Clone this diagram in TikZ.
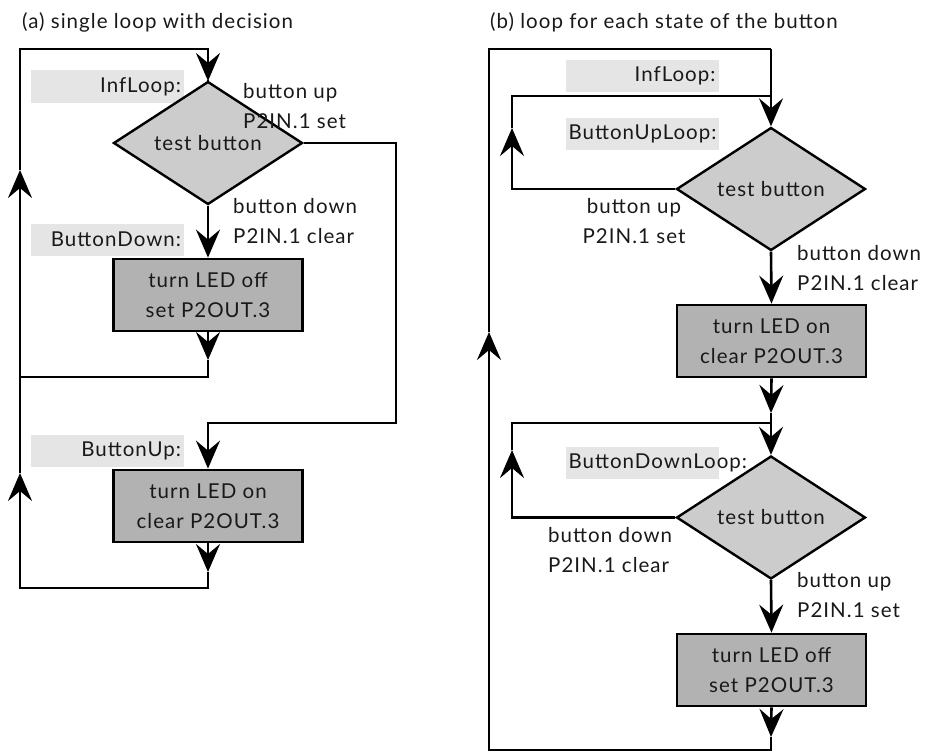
\documentclass[tikz,border=0pt]{standalone}
\usepackage{fontspec}
\setmainfont{Lato}[LetterSpace=5]
\usetikzlibrary{shapes.geometric,arrows.meta}
\begin{document}
\begin{tikzpicture}[x=1pt,y=-1pt,
  every node/.style={font=\fontsize{20.5}{29.5}\selectfont, text=black!90},
  ln/.style={line width=2.6pt, line join=miter},
  ar/.style={ln, -{Stealth[length=28pt,width=24pt,inset=10pt]}},
  dec/.style={diamond, draw, line width=2.4pt, fill=black!20, minimum width=189pt, minimum height=93pt, inner sep=0pt},
  act/.style={rectangle, draw, line width=2.8pt, fill=black!30, minimum width=189pt, minimum height=72pt, align=center, inner sep=0pt},
  lab/.style={rectangle, fill=black!10, minimum width=153pt, minimum height=32pt, text width=147pt, align=right, inner sep=0pt},
  cond/.style={align=left, inner sep=0pt, anchor=base west},
  condc/.style={align=center, inner sep=0pt, anchor=base},
  ttl/.style={inner sep=0pt, anchor=base west},
]
\useasboundingbox (0,0) rectangle (929,752);

% ---------------- panel (a) ----------------
\node[ttl] (ta) at (22,29) {(a) single loop with decision};
\node[lab] (lA1) at (107.5,86.5) {InfLoop:};
\node[lab] (lA2) at (107.5,239.5) {ButtonDown:};
\node[lab] (lA3) at (107.5,451) {ButtonUp:};
\node[dec] (dA) at (208,143) {test button};
\node[act] (bA1) at (208,295) {turn LED off\\set P2OUT.3};
\node[act] (bA2) at (208,506) {turn LED on\\clear P2OUT.3};
\node[cond] (cA1) at (243,128) {button up\\P2IN.1 set};
\node[cond] (cA2) at (233,243) {button down\\P2IN.1 clear};

\coordinate (tA1) at (208,360);
\coordinate (kA1) at (208,377);
\coordinate (kA2) at (20,377);
\coordinate (tA2) at (20,170);
\coordinate (kA3) at (20,49);
\coordinate (kA4) at (208,49);
\coordinate (tA3) at (208,81);
\coordinate (kA5) at (396,143);
\coordinate (kA6) at (396,423);
\coordinate (kA7) at (208,423);
\coordinate (tA4) at (208,572);
\coordinate (kA8) at (208,588);
\coordinate (kA9) at (20,588);
\coordinate (tA5) at (20,473);

\draw[ar] (bA1.south) -- (tA1);
\draw[ar] (tA1) -- (kA1) -- (kA2) -- (tA2);
\draw[ar] (tA2) -- (kA3) -- (kA4) -- (tA3);
\draw[ln] (tA3) -- (dA.north);
\draw[ar] (dA.south) -- (bA1.north);
\draw[ar] (dA.east) -- (kA5) -- (kA6) -- (kA7) -- (bA2.north);
\draw[ar] (bA2.south) -- (tA4);
\draw[ar] (tA4) -- (kA8) -- (kA9) -- (tA5);
\draw[ln] (tA5) -- (kA2);

% ---------------- panel (b) ----------------
\node[ttl] (tb) at (490,29) {(b) loop for each state of the button};
\node[lab] (lB1) at (642,76) {InfLoop:};
\node[lab] (lB2) at (642,134) {ButtonUpLoop:};
\node[lab] (lB3) at (642,463) {ButtonDownLoop:};
\node[dec] (dB1) at (771,189) {test button};
\node[act] (bB1) at (771.5,341) {turn LED on\\clear P2OUT.3};
\node[dec] (dB2) at (771,517.5) {test button};
\node[act] (bB2) at (771.5,670) {turn LED off\\set P2OUT.3};
\node[condc] (cB1) at (634,243) {button up\\P2IN.1 set};
\node[cond] (cB2) at (797,290) {button down\\P2IN.1 clear};
\node[cond] (cB3) at (548,572) {button down\\P2IN.1 clear};
\node[cond] (cB4) at (797,617) {button up\\P2IN.1 set};

\coordinate (kB1) at (771,49);
\coordinate (kB2) at (771,96);
\coordinate (kB3) at (512,96);
\coordinate (tB1) at (512,128);
\coordinate (kB4) at (512,189);
\coordinate (tB2) at (771,413);
\coordinate (kB5) at (771,423);
\coordinate (kB6) at (512,423);
\coordinate (tB3) at (512,450);
\coordinate (kB7) at (512,517.5);
\coordinate (tB4) at (771,737);
\coordinate (kB8) at (771,750);
\coordinate (kB9) at (489,750);
\coordinate (tB5) at (489,332);
\coordinate (kB10) at (489,49);

\draw[ln] (kB1) -- (kB2);
\draw[ar] (kB2) -- (dB1.north);
\draw[ar] (dB1.west) -- (kB4) -- (tB1);
\draw[ln] (tB1) -- (kB3) -- (kB2);
\draw[ar] (dB1.south) -- (bB1.north);
\draw[ar] (bB1.south) -- (tB2);
\draw[ln] (tB2) -- (kB5);
\draw[ar] (kB5) -- (dB2.north);
\draw[ar] (dB2.west) -- (kB7) -- (tB3);
\draw[ln] (tB3) -- (kB6) -- (kB5);
\draw[ar] (dB2.south) -- (bB2.north);
\draw[ar] (bB2.south) -- (tB4);
\draw[ar] (tB4) -- (kB8) -- (kB9) -- (tB5);
\draw[ln] (tB5) -- (kB10) -- (kB1);
\end{tikzpicture}
\end{document}
